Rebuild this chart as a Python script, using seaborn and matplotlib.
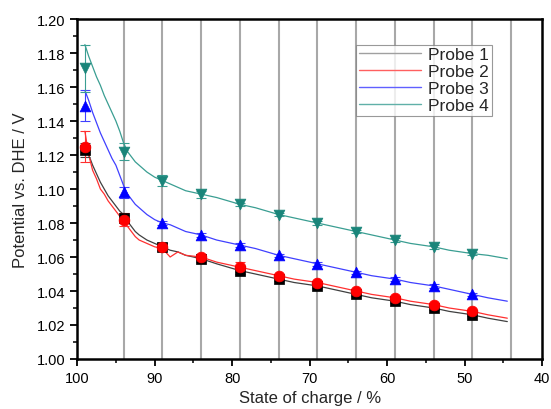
import numpy as np
import pandas as pd
import matplotlib
matplotlib.use("Agg")
import matplotlib.pyplot as plt
import seaborn as sns
from matplotlib.ticker import MultipleLocator

# continuous curves (raw data)
soc_line = [99, 98.5, 98, 97.5, 97, 96.5, 96, 95.5, 95, 94.5, 94, 93.5, 93, 92.5, 92, 91, 90, 89, 88, 87, 86, 84, 82, 79, 77, 74, 72, 69, 67, 64, 62, 59, 57, 54, 52, 49, 47, 44.5]
probe1_line = [1.125, 1.120, 1.114, 1.109, 1.104, 1.100, 1.096, 1.093, 1.090, 1.087, 1.085, 1.081, 1.078, 1.075, 1.073, 1.070, 1.068, 1.066, 1.064, 1.063, 1.061, 1.059, 1.056, 1.052, 1.050, 1.047, 1.045, 1.043, 1.041, 1.038, 1.036, 1.034, 1.032, 1.030, 1.028, 1.026, 1.024, 1.022]
probe2_line = [1.134, 1.120, 1.111, 1.106, 1.100, 1.097, 1.093, 1.090, 1.087, 1.084, 1.082, 1.078, 1.075, 1.072, 1.070, 1.068, 1.066, 1.065, 1.060, 1.063, 1.061, 1.060, 1.057, 1.054, 1.052, 1.049, 1.047, 1.045, 1.043, 1.040, 1.038, 1.036, 1.034, 1.032, 1.030, 1.028, 1.026, 1.024]
probe3_line = [1.158, 1.152, 1.145, 1.139, 1.133, 1.128, 1.123, 1.118, 1.114, 1.108, 1.102, 1.097, 1.094, 1.091, 1.089, 1.085, 1.082, 1.080, 1.079, 1.077, 1.075, 1.073, 1.070, 1.067, 1.065, 1.061, 1.059, 1.056, 1.054, 1.051, 1.049, 1.047, 1.045, 1.043, 1.041, 1.038, 1.036, 1.034]
probe4_line = [1.185, 1.178, 1.172, 1.166, 1.161, 1.155, 1.150, 1.145, 1.140, 1.134, 1.127, 1.122, 1.119, 1.116, 1.114, 1.110, 1.107, 1.105, 1.103, 1.101, 1.099, 1.097, 1.095, 1.091, 1.089, 1.085, 1.083, 1.080, 1.078, 1.075, 1.073, 1.070, 1.068, 1.066, 1.064, 1.062, 1.061, 1.059]

# averaged points with error bars
soc_pts = [99, 94, 89, 84, 79, 74, 69, 64, 59, 54, 49]
probe1_pts = [1.123, 1.083, 1.066, 1.059, 1.052, 1.047, 1.043, 1.038, 1.034, 1.030, 1.026]
probe2_pts = [1.125, 1.082, 1.066, 1.060, 1.054, 1.049, 1.045, 1.040, 1.036, 1.032, 1.028]
probe3_pts = [1.149, 1.098, 1.080, 1.073, 1.067, 1.061, 1.056, 1.051, 1.047, 1.043, 1.038]
probe4_pts = [1.171, 1.122, 1.105, 1.097, 1.091, 1.085, 1.080, 1.075, 1.070, 1.066, 1.062]
probe1_err = [0.004, 0.002, 0.002, 0.002, 0.002, 0.001, 0.001, 0.001, 0.001, 0.001, 0.001]
probe2_err = [0.009, 0.004, 0.002, 0.002, 0.003, 0.001, 0.001, 0.001, 0.001, 0.001, 0.001]
probe3_err = [0.009, 0.003, 0.001, 0.001, 0.001, 0.001, 0.001, 0.001, 0.001, 0.001, 0.001]
probe4_err = [0.014, 0.005, 0.003, 0.002, 0.001, 0.001, 0.001, 0.001, 0.001, 0.001, 0.001]

probes = ["Probe 1", "Probe 2", "Probe 3", "Probe 4"]
grid_soc = [94, 89, 84, 79, 74, 69, 64, 59, 54, 49, 44]

line_cols = ["#404040", "#ff3030", "#4040ff", "#3a9e92"]
mark_cols = ["black", "red", "blue", "#1a857a"]
markers = ["s", "o", "^", "v"]

df_line = pd.DataFrame({
    "soc": soc_line * 4,
    "pot": probe1_line + probe2_line + probe3_line + probe4_line,
    "probe": [p for p in probes for _ in soc_line],
})
df_pts = pd.DataFrame({
    "soc": soc_pts * 4,
    "pot": probe1_pts + probe2_pts + probe3_pts + probe4_pts,
    "err": probe1_err + probe2_err + probe3_err + probe4_err,
    "probe": [p for p in probes for _ in soc_pts],
})

sns.set_style("white")
plt.rcParams["font.family"] = ["Liberation Sans", "DejaVu Sans"]

fig = plt.figure(figsize=(5.51, 4.10), dpi=100)
ax = fig.add_axes([0.14, 0.122, 0.844, 0.829])

for x in grid_soc:
    ax.axvline(x, color="#a8a8a8", lw=1.5, zorder=0)

sns.lineplot(data=df_line, x="soc", y="pot", hue="probe", palette=line_cols,
             lw=0.9, ax=ax, zorder=2, legend=True)

for i, p in enumerate(probes):
    d = df_pts[df_pts["probe"] == p]
    ax.errorbar(d["soc"], d["pot"], yerr=d["err"], fmt="none", ecolor=line_cols[i],
                elinewidth=0.8, capsize=3.5, capthick=0.8, zorder=3)
    sns.scatterplot(x=d["soc"], y=d["pot"], marker=markers[i], color=mark_cols[i],
                    s=60, edgecolor=mark_cols[i], linewidth=0.5, ax=ax, zorder=4, legend=False)

ax.set_xlim(100, 40)
ax.set_ylim(1.00, 1.20)
ax.xaxis.set_major_locator(MultipleLocator(10))
ax.xaxis.set_minor_locator(MultipleLocator(5))
ax.yaxis.set_major_locator(MultipleLocator(0.02))
ax.yaxis.set_minor_locator(MultipleLocator(0.01))
ax.yaxis.set_major_formatter(matplotlib.ticker.FormatStrFormatter("%.2f"))
ax.tick_params(which="major", direction="out", length=5, width=1.3, labelsize=10.5, colors="black", left=True, bottom=True)
ax.tick_params(which="minor", direction="out", length=3, width=1.3, left=True, bottom=True)
for s in ax.spines.values():
    s.set_color("black")
    s.set_linewidth(1.8)

ax.set_xlabel("State of charge / %", fontsize=12, labelpad=4)
ax.set_ylabel("Potential vs. DHE / V", fontsize=12, labelpad=6)

leg = ax.legend(loc="upper left", bbox_to_anchor=(0.6, 0.925), fontsize=12.5,
                frameon=True, fancybox=False, edgecolor="#808080",
                handlelength=3.6, handletextpad=0.4, borderpad=0.15, labelspacing=0.1,
                borderaxespad=0)
leg.get_frame().set_linewidth(0.8)
for h, c in zip(leg.get_lines(), ["#a0a0a0", "#ff6060", "#6060ff", "#60b0a8"]):
    h.set_color(c)
    h.set_linewidth(1.0)

fig.savefig("out.png", dpi=100)
